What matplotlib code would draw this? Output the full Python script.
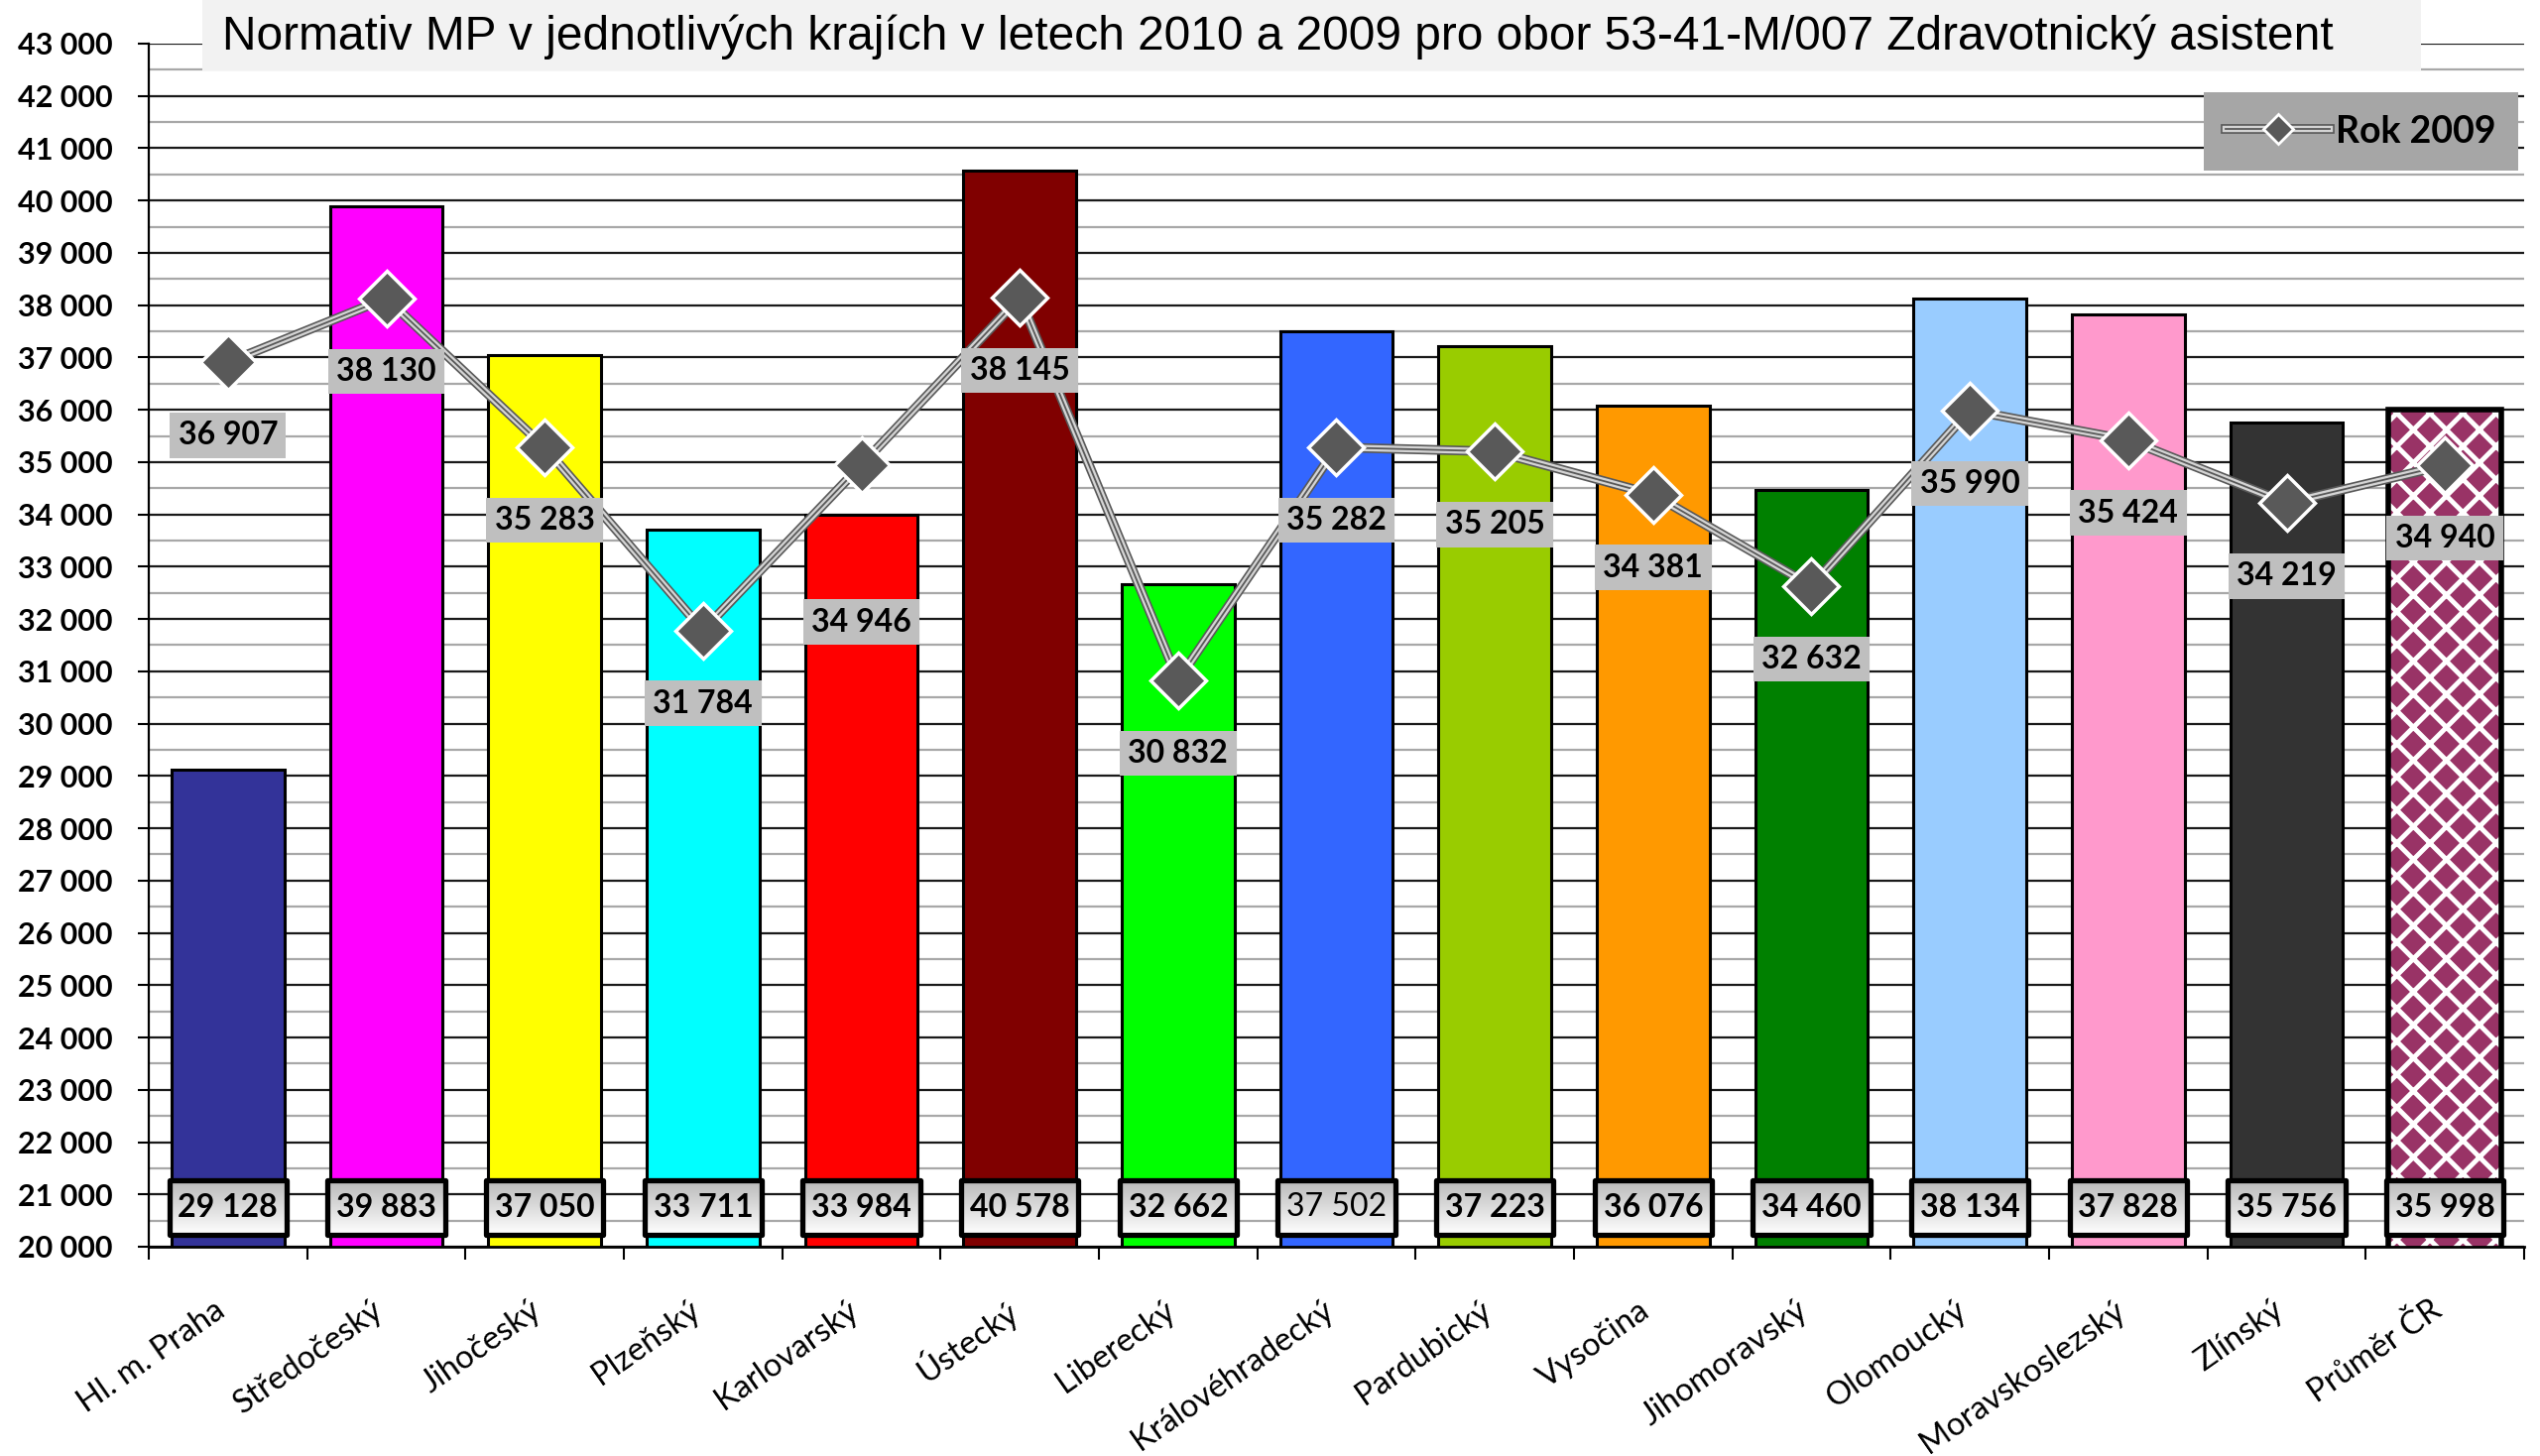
import numpy as np
import matplotlib
matplotlib.use("Agg")
import matplotlib.pyplot as plt
from matplotlib.lines import Line2D
from matplotlib.patches import Rectangle
from matplotlib.colors import LinearSegmentedColormap
from matplotlib.legend_handler import HandlerTuple
from matplotlib.transforms import ScaledTranslation

plt.rcParams['font.family'] = ['Lato', 'DejaVu Sans']
plt.rcParams['hatch.linewidth'] = 3.5

# data
regions = ["Hl. m. Praha", "Středočeský", "Jihočeský", "Plzeňský", "Karlovarský",
           "Ústecký", "Liberecký", "Královéhradecký", "Pardubický", "Vysočina",
           "Jihomoravský", "Olomoucký", "Moravskoslezský", "Zlínský", "Průměr ČR"]
rok_2010 = [29128, 39883, 37050, 33711, 33984, 40578, 32662, 37502, 37223,
            36076, 34460, 38134, 37828, 35756, 35998]
rok_2009 = [36907, 38130, 35283, 31784, 34946, 38145, 30832, 35282, 35205,
            34381, 32632, 35990, 35424, 34219, 34940]
bar_colors = ["#333399", "#ff00ff", "#ffff00", "#00ffff", "#ff0000", "#800000",
              "#00ff00", "#3366ff", "#99cc00", "#ff9900", "#008000", "#99ccff",
              "#ff99cc", "#333333", "#993366"]
title = ("Normativ MP v jednotlivých krajích v letech 2010 a 2009 pro obor "
         "53-41-M/007 Zdravotnický asistent")


def fmt(v):
    return f"{v:,}".replace(",", " ")


W, H = 2561, 1468
fig = plt.figure(figsize=(W / 100, H / 100), dpi=100)
ax = fig.add_axes([150 / W, 1 - 1257 / H, (2545 - 150) / W, (1257 - 44) / H])

x = np.arange(len(regions))
bw = 0.71

# bars (last one is the patterned average)
ax.bar(x[:-1], rok_2010[:-1], width=bw, color=bar_colors[:-1],
       edgecolor="black", linewidth=2.2, zorder=2)
ax.bar(x[-1], rok_2010[-1], width=bw, color=bar_colors[-1],
       edgecolor="white", hatch="x", linewidth=0, zorder=2)
ax.bar(x[-1], rok_2010[-1], width=bw, fill=False,
       edgecolor="black", linewidth=4, zorder=2.1)

# 2009 line: layered to look like a compound line
ax.plot(x, rok_2009, color="#595959", lw=7, zorder=4)
ax.plot(x, rok_2009, color="#d4d4d4", lw=4.6, zorder=4.1)
ax.plot(x, rok_2009, color="#595959", lw=1.3, zorder=4.2)
ax.plot(x, rok_2009, ls="none", marker="D", ms=29, mfc="#595959",
        mec="white", mew=2.5, zorder=6)

# label of Karlovarský was pushed lower in the original
for i, (xi, v) in enumerate(zip(x, rok_2009)):
    dy = -114 if i == 4 else -53
    ax.annotate(fmt(v), (xi, v), xytext=(0, dy), textcoords="offset points",
                ha="center", va="center", fontsize=23, fontweight="bold",
                bbox=dict(boxstyle="square,pad=0.26", fc="#bfbfbf", ec="none"),
                zorder=5)

# 2010 value boxes at the bottom with grey gradient
grad_cmap = LinearSegmentedColormap.from_list("g", ["#ffffff", "#b8b8b8"])
grad = np.linspace(0, 1, 64)[:, None]
y0, y1 = 20228, 21271
hw = 0.37
light_labels = {7}
for xi, v in zip(x, rok_2010):
    ax.imshow(grad, extent=(xi - hw, xi + hw, y0, y1), origin="lower",
              cmap=grad_cmap, aspect="auto", zorder=5, interpolation="bilinear")
    ax.add_patch(Rectangle((xi - hw, y0), 2 * hw, y1 - y0, fill=False,
                           ec="black", lw=3.8, joinstyle="round", zorder=5.5))
    ax.text(xi, (y0 + y1) / 2, fmt(v), ha="center", va="center", fontsize=23,
            fontweight="normal" if xi in light_labels else "bold", zorder=6)

# axes
ax.set_xlim(-0.5, len(regions) - 0.5)
ax.set_ylim(20000, 43000)
yt = np.arange(20000, 43001, 1000)
ax.set_yticks(yt, [fmt(v) for v in yt], fontsize=22, fontweight="bold")
ax.set_yticks(np.arange(20500, 43000, 1000), minor=True)
ax.tick_params(axis="y", which="major", length=8, width=1.5, pad=18)
ax.tick_params(axis="y", which="minor", length=0)

ax.set_xticks(x, regions, rotation=35, ha="right", va="center",
              rotation_mode="anchor", fontsize=23.5)
ax.set_xticks(np.arange(-0.5, len(regions), 1), minor=True)
ax.tick_params(axis="x", which="major", length=0, pad=44)
ax.tick_params(axis="x", which="minor", length=9, width=1.5)
for lab in ax.get_xticklabels():
    lab.set_transform(lab.get_transform() + ScaledTranslation(-0.065, 0, fig.dpi_scale_trans))

ax.grid(axis="y", which="major", color="#1a1a1a", lw=1.6)
ax.grid(axis="y", which="minor", color="#a8a8a8", lw=1.6)
ax.set_axisbelow(True)
for s in ["top", "right"]:
    ax.spines[s].set_visible(False)
ax.spines["left"].set_linewidth(1.6)
ax.spines["bottom"].set_linewidth(2)

# legend
h = (Line2D([], [], color="#595959", lw=7),
     Line2D([], [], color="#d4d4d4", lw=4.6),
     Line2D([], [], color="#595959", lw=1.3),
     Line2D([], [], ls="none", marker="D", ms=15, mfc="#595959", mec="white", mew=2))
leg = ax.legend([h], ["Rok 2009"], handler_map={tuple: HandlerTuple(ndivide=1)},
                loc="upper right", bbox_to_anchor=(0.9975, 0.9596), borderaxespad=0,
                prop=dict(size=27, weight="bold"), handlelength=2.8,
                handletextpad=0.15, borderpad=0.6, fancybox=False, framealpha=1,
                facecolor="#a6a6a6", edgecolor="none")
leg.set_zorder(10)

# title box
fig.add_artist(Rectangle((204 / W, 1 - 71 / H), (2441 - 204) / W, 71 / H,
                         transform=fig.transFigure, fc="#f2f2f2", ec="none", zorder=3))
fig.text(224 / W, 1 - 50 / H, title, ha="left", va="baseline", fontsize=34.5,
         family="Liberation Sans", zorder=4)

fig.savefig("out.png", dpi=100)
